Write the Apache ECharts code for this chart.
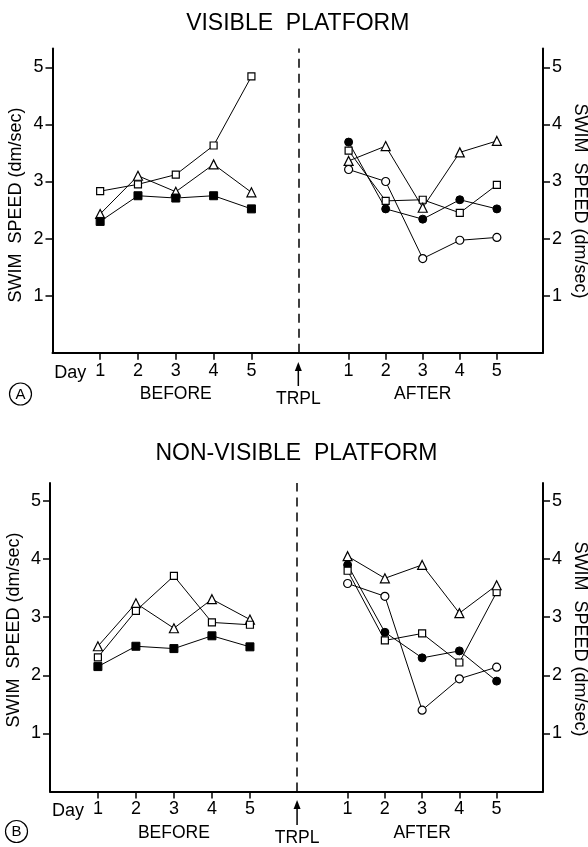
<!DOCTYPE html>
<html><head><meta charset="utf-8">
<script src="https://cdn.jsdelivr.net/npm/echarts@6/dist/echarts.min.js"></script>
<style>html,body{margin:0;padding:0;background:#fff}#c{width:588px;height:847px}</style>
</head><body><div id="c"></div>
<script>
// ---------- data ----------
const days = [1, 2, 3, 4, 5];
const dayLabels = ['1', '2', '3', '4', '5'];
const yTickValues = [1, 2, 3, 4, 5];
const yTickLabels = ['1', '2', '3', '4', '5'];

// A: VISIBLE PLATFORM
const visBeforeOpenSquare   = [2.83, 2.95, 3.12, 3.63, 4.84];
const visBeforeTriangle     = [2.43, 3.10, 2.82, 3.30, 2.81];
const visBeforeFilledSquare = [2.30, 2.75, 2.71, 2.75, 2.52];
const visAfterFilledCircle  = [3.69, 2.52, 2.34, 2.68, 2.52];
const visAfterOpenSquare    = [3.54, 2.66, 2.68, 2.45, 2.94];
const visAfterTriangle      = [3.36, 3.62, 2.54, 3.51, 3.71];
const visAfterOpenCircle    = [3.21, 3.00, 1.65, 1.97, 2.02];

// B: NON-VISIBLE PLATFORM
const nonBeforeTriangle     = [2.50, 3.24, 2.81, 3.31, 2.96];
const nonBeforeOpenSquare   = [2.31, 3.11, 3.71, 2.91, 2.87];
const nonBeforeFilledSquare = [2.15, 2.50, 2.46, 2.68, 2.49];
const nonAfterTriangle      = [4.05, 3.67, 3.90, 3.07, 3.55];
const nonAfterFilledCircle  = [3.90, 2.74, 2.30, 2.42, 1.90];
const nonAfterOpenSquare    = [3.80, 2.60, 2.72, 2.22, 3.43];
const nonAfterOpenCircle    = [3.58, 3.36, 1.40, 1.94, 2.14];

const titles = ['VISIBLE  PLATFORM', 'NON-VISIBLE  PLATFORM'];
const panelLetters = ['A', 'B'];
const yName = 'SWIM  SPEED (dm/sec)';

// ---------- layout ----------
const FONT = "'Liberation Sans', Arial, sans-serif";
const beforeX = days.map(d => d);
const trplX = 6.24;
const afterX = days.map(d => 7.57 + (d - 1) * 0.98);
const allX = beforeX.concat(afterX);
const X_MIN = -0.26, X_MAX = 12.71;

const grids = [
  { left: 52.5, top: 48.5, width: 490.5, height: 304.2 },
  { left: 50, top: 483, width: 493, height: 308.5 }
];
const yMax = [5.33, 5.31];

function xAxisFor(gi) {
  return {
    type: 'value', gridIndex: gi, min: X_MIN, max: X_MAX,
    axisLine: { show: true, onZero: false, lineStyle: { color: '#000', width: 2 } },
    axisTick: { show: true, customValues: allX, length: 7, lineStyle: { color: '#000', width: 1.5 } },
    axisLabel: {
      show: true, customValues: allX, margin: 9, color: '#000', fontSize: 18, fontFamily: FONT,
      formatter: v => { const i = allX.findIndex(x => Math.abs(x - v) < 1e-6); return i < 0 ? '' : dayLabels[i % 5]; }
    },
    splitLine: { show: false }
  };
}
function yAxisFor(gi, pos) {
  return {
    type: 'value', gridIndex: gi, position: pos, min: 0, max: yMax[gi],
    axisLine: { show: true, onZero: false, lineStyle: { color: '#000', width: 2 } },
    axisTick: { show: true, customValues: yTickValues, length: 7, lineStyle: { color: '#000', width: 1.5 } },
    axisLabel: {
      show: true, customValues: yTickValues, margin: 9, color: '#000', fontSize: 18, fontFamily: FONT,
      formatter: v => { const i = yTickValues.indexOf(Math.round(v)); return i < 0 ? '' : yTickLabels[i]; }
    },
    splitLine: { show: false }
  };
}

const styles = {
  openSquare:   { symbol: 'rect', symbolSize: 7, itemStyle: { color: '#fff', borderColor: '#000', borderWidth: 1.2 } },
  filledSquare: { symbol: 'rect', symbolSize: 8, itemStyle: { color: '#000', borderColor: '#000', borderWidth: 1 } },
  openTriangle: { symbol: 'triangle', symbolSize: 9, itemStyle: { color: '#fff', borderColor: '#000', borderWidth: 1.2 } },
  filledCircle: { symbol: 'circle', symbolSize: 8, itemStyle: { color: '#000', borderColor: '#000', borderWidth: 1 } },
  openCircle:   { symbol: 'circle', symbolSize: 8, itemStyle: { color: '#fff', borderColor: '#000', borderWidth: 1.2 } }
};

function lineSeries(gi, xs, ys, style) {
  return Object.assign({
    type: 'line', xAxisIndex: gi, yAxisIndex: gi * 2,
    data: xs.map((x, i) => [x, ys[i]]),
    showSymbol: true, showAllSymbol: true, animation: false, silent: true,
    lineStyle: { color: '#000', width: 1 }
  }, JSON.parse(JSON.stringify(style)));
}
function trplSeries(gi) {
  return {
    type: 'line', xAxisIndex: gi, yAxisIndex: gi * 2, data: [], silent: true,
    markLine: {
      silent: true, symbol: 'none', animation: false, label: { show: false },
      lineStyle: { color: '#000', width: 1.5, type: [9, 6] },
      data: [{ xAxis: trplX }]
    }
  };
}

const series = [
  trplSeries(0), trplSeries(1),
  lineSeries(0, beforeX, visBeforeOpenSquare, styles.openSquare),
  lineSeries(0, beforeX, visBeforeTriangle, styles.openTriangle),
  lineSeries(0, beforeX, visBeforeFilledSquare, styles.filledSquare),
  lineSeries(0, afterX, visAfterFilledCircle, styles.filledCircle),
  lineSeries(0, afterX, visAfterOpenSquare, styles.openSquare),
  lineSeries(0, afterX, visAfterTriangle, styles.openTriangle),
  lineSeries(0, afterX, visAfterOpenCircle, styles.openCircle),
  lineSeries(1, beforeX, nonBeforeTriangle, styles.openTriangle),
  lineSeries(1, beforeX, nonBeforeOpenSquare, styles.openSquare),
  lineSeries(1, beforeX, nonBeforeFilledSquare, styles.filledSquare),
  lineSeries(1, afterX, nonAfterFilledCircle, styles.filledCircle),
  lineSeries(1, afterX, nonAfterOpenSquare, styles.openSquare),
  lineSeries(1, afterX, nonAfterTriangle, styles.openTriangle),
  lineSeries(1, afterX, nonAfterOpenCircle, styles.openCircle)
];

const chart = echarts.init(document.getElementById('c'), null, { renderer: 'canvas' });
chart.setOption({
  animation: false,
  backgroundColor: '#fff',
  grid: grids,
  xAxis: [xAxisFor(0), xAxisFor(1)],
  yAxis: [yAxisFor(0, 'left'), yAxisFor(0, 'right'), yAxisFor(1, 'left'), yAxisFor(1, 'right')],
  series: series
});

// ---------- annotations positioned from the axes ----------
const txt = (x, y, text, size, extra) => Object.assign({
  type: 'text', x: x, y: y, silent: true,
  style: { text: text, fill: '#000', font: size + 'px ' + FONT, align: 'center', verticalAlign: 'middle' }
}, extra || {});

const graphics = [];
const panelCfg = [
  { titleY: 23.5, dayLabelY: 373, lowY: 394, trplY: 399, arrowTip: 362, arrowTail: 386, letter: [20.5, 394], yNameL: [16, 205], yNameR: [580, 201] },
  { titleY: 454, dayLabelY: 811.5, lowY: 833, trplY: 838, arrowTip: 800, arrowTail: 825, letter: [16.5, 831.5], yNameL: [14, 630], yNameR: [580, 639] }
];
panelCfg.forEach((p, gi) => {
  const finder = { xAxisIndex: gi, yAxisIndex: gi * 2 };
  const pLeft = chart.convertToPixel(finder, [X_MIN, 0]);
  const pRight = chart.convertToPixel(finder, [X_MAX, 0]);
  const pTr = chart.convertToPixel(finder, [trplX, 0]);
  const pB3 = chart.convertToPixel(finder, [beforeX[2], 0]);
  const pA3 = chart.convertToPixel(finder, [afterX[2], 0]);
  const pB1 = chart.convertToPixel(finder, [beforeX[0], 0]);
  graphics.push(txt((pLeft[0] + pRight[0]) / 2, p.titleY, titles[gi], 23));
  graphics.push(txt(pB1[0] - 30, p.dayLabelY, 'Day', 18));
  graphics.push(txt(pB3[0], p.lowY, 'BEFORE', 17.5));
  graphics.push(txt(pA3[0], p.lowY, 'AFTER', 17.5));
  graphics.push(txt(pTr[0], p.trplY, 'TRPL', 17.5));
  graphics.push({ type: 'line', silent: true, shape: { x1: pTr[0], y1: p.arrowTail, x2: pTr[0], y2: p.arrowTip + 6 }, style: { stroke: '#000', lineWidth: 1.5 } });
  graphics.push({ type: 'polygon', silent: true, shape: { points: [[pTr[0], p.arrowTip], [pTr[0] - 3.5, p.arrowTip + 9], [pTr[0] + 3.5, p.arrowTip + 9]] }, style: { fill: '#000' } });
  graphics.push({ type: 'circle', silent: true, shape: { cx: p.letter[0], cy: p.letter[1], r: 11 }, style: { fill: 'none', stroke: '#000', lineWidth: 1.2 } });
  graphics.push(txt(p.letter[0], p.letter[1] + 0.5, panelLetters[gi], 15));
  graphics.push(txt(p.yNameL[0], p.yNameL[1], yName, 18, { rotation: Math.PI / 2 }));
  graphics.push(txt(p.yNameR[0], p.yNameR[1], yName, 18, { rotation: -Math.PI / 2 }));
});
chart.setOption({ graphic: graphics });
</script>
</body></html>
